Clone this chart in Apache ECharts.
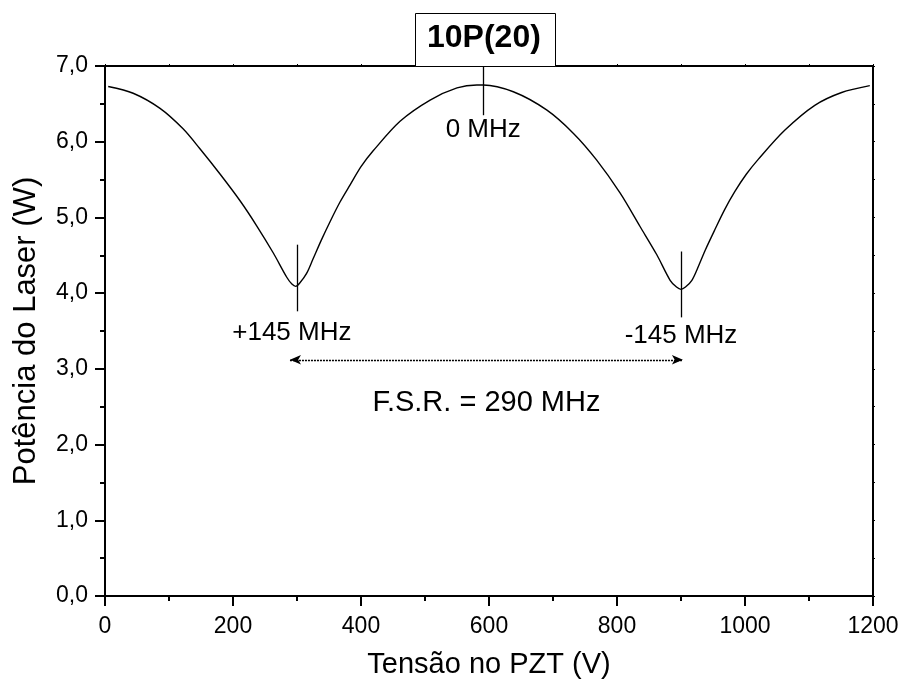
<!DOCTYPE html>
<html>
<head>
<meta charset="utf-8">
<script src="https://cdn.jsdelivr.net/npm/echarts@6/dist/echarts.min.js"></script>
<style>html,body{margin:0;padding:0;background:#fff}#c{width:902px;height:685px}</style>
</head>
<body>
<div id="c"></div>
<script>
// Curve data: PZT voltage (V) and laser power (W)
const voltage = [5, 44, 86, 122, 148, 180, 211, 237, 263, 284, 292, 298, 304, 315, 325, 338, 352, 367, 383, 400, 419, 461, 508, 550, 581, 591, 638, 690, 732, 768, 805, 836, 862, 883, 893, 900, 907, 917, 925, 938, 953, 968, 984, 1002, 1021, 1062, 1109, 1151, 1195];
const power   = [6.73, 6.64, 6.44, 6.17, 5.91, 5.57, 5.22, 4.89, 4.53, 4.21, 4.12, 4.09, 4.13, 4.26, 4.45, 4.70, 4.95, 5.20, 5.43, 5.67, 5.88, 6.27, 6.55, 6.71, 6.75, 6.75, 6.66, 6.42, 6.11, 5.76, 5.32, 4.88, 4.51, 4.17, 4.08, 4.05, 4.08, 4.17, 4.31, 4.57, 4.84, 5.10, 5.34, 5.57, 5.77, 6.15, 6.48, 6.65, 6.74];

// Axis settings
const xTicks = [0, 200, 400, 600, 800, 1000, 1200];
const yTicks = [0, 1, 2, 3, 4, 5, 6, 7];

// Annotations: marker lines [x, yTop, yBottom]
const markerX = [591, 300, 901];
const markerTop = [7.0, 4.64, 4.55];
const markerBottom = [6.35, 3.76, 3.68];
// Annotation texts
const noteText = ['0 MHz', '+145 MHz', '-145 MHz', 'F.S.R. = 290 MHz'];
const noteX = [591, 292, 900, 596];
const noteY = [6.16, 3.47, 3.43, 2.55];
const noteSize = [26, 26, 26, 29];
// F.S.R. arrow
const arrowFrom = [289, 3.12];
const arrowTo = [903, 3.12];

const titleText = '10P(20)';
const xName = 'Tensão no PZT (V)';
const yName = 'Potência do Laser (W)';

const FONT = '"Liberation Sans", Arial, Helvetica, sans-serif';
const chart = echarts.init(document.getElementById('c'), null, {renderer: 'canvas'});

const markerLines = markerX.map((x, i) => [{coord: [x, markerTop[i]]}, {coord: [x, markerBottom[i]]}]);
const notes = noteText.map((t, i) => ({value: [noteX[i], noteY[i]], label: {formatter: t, fontSize: noteSize[i]}}));

chart.setOption({
  animation: false,
  backgroundColor: '#fff',
  textStyle: {fontFamily: FONT, color: '#000'},
  grid: {left: 105, right: 29, top: 66, bottom: 89},
  xAxis: [{
    type: 'value', min: xTicks[0], max: xTicks[xTicks.length - 1], interval: xTicks[1] - xTicks[0],
    position: 'bottom',
    axisLine: {show: true, onZero: false, lineStyle: {color: '#000', width: 2}},
    axisTick: {show: true, length: 10, lineStyle: {color: '#000', width: 2}},
    minorTick: {show: true, splitNumber: 2, length: 5, lineStyle: {color: '#000', width: 2}},
    splitLine: {show: false},
    axisLabel: {fontSize: 23, color: '#000', margin: 19, fontFamily: FONT, formatter: v => String(v)},
    name: xName, nameLocation: 'middle', nameGap: 54,
    nameTextStyle: {fontSize: 29, color: '#000', fontFamily: FONT}
  }, {
    type: 'value', min: xTicks[0], max: xTicks[xTicks.length - 1], interval: 100,
    position: 'top',
    axisLine: {show: true, onZero: false, lineStyle: {color: '#000', width: 2}},
    axisTick: {show: true, length: 2, lineStyle: {color: '#000', width: 1}},
    axisLabel: {show: false}, splitLine: {show: false}
  }],
  yAxis: [{
    type: 'value', min: yTicks[0], max: yTicks[yTicks.length - 1], interval: 1,
    position: 'left',
    axisLine: {show: true, onZero: false, lineStyle: {color: '#000', width: 2}},
    axisTick: {show: true, length: 10, lineStyle: {color: '#000', width: 2}},
    minorTick: {show: true, splitNumber: 2, length: 5, lineStyle: {color: '#000', width: 2}},
    splitLine: {show: false},
    axisLabel: {fontSize: 23, color: '#000', margin: 17, fontFamily: FONT,
      formatter: v => v.toFixed(1).replace('.', ',')},
    name: yName, nameLocation: 'middle', nameGap: 63, nameRotate: 90,
    nameTextStyle: {fontSize: 31, color: '#000', fontFamily: FONT}
  }, {
    type: 'value', min: yTicks[0], max: yTicks[yTicks.length - 1], interval: 0.5,
    position: 'right',
    axisLine: {show: true, onZero: false, lineStyle: {color: '#000', width: 2}},
    axisTick: {show: true, length: 2, lineStyle: {color: '#000', width: 1}},
    axisLabel: {show: false}, splitLine: {show: false}
  }],
  graphic: [{
    type: 'rect', left: 415, top: 13, z: 100,
    shape: {width: 140, height: 53},
    style: {fill: '#fff', stroke: '#000', lineWidth: 1}
  }, {
    type: 'text', left: 427, top: 22, z: 101,
    style: {text: titleText, fontSize: 32, fontWeight: 'bold', fill: '#000', fontFamily: FONT}
  }],
  series: [{
    type: 'line',
    data: voltage.map((v, i) => [v, power[i]]),
    showSymbol: false, symbol: 'none', smooth: 0.3,
    lineStyle: {color: '#000', width: 1.4},
    markLine: {
      silent: true, symbol: ['none', 'none'], animation: false,
      lineStyle: {color: '#000', width: 1.3, type: 'solid'},
      label: {show: false},
      data: markerLines.concat([[
        {coord: arrowFrom, symbol: 'arrow', symbolSize: [7, 11], lineStyle: {type: [2, 1], width: 1.3, color: '#000'}},
        {coord: arrowTo, symbol: 'arrow', symbolSize: [7, 11]}
      ]])
    }
  }, {
    type: 'scatter', symbolSize: 0, silent: true,
    data: notes,
    itemStyle: {opacity: 1},
    label: {show: true, position: 'inside', color: '#000', opacity: 1, fontFamily: FONT}
  }]
});
</script>
</body>
</html>
